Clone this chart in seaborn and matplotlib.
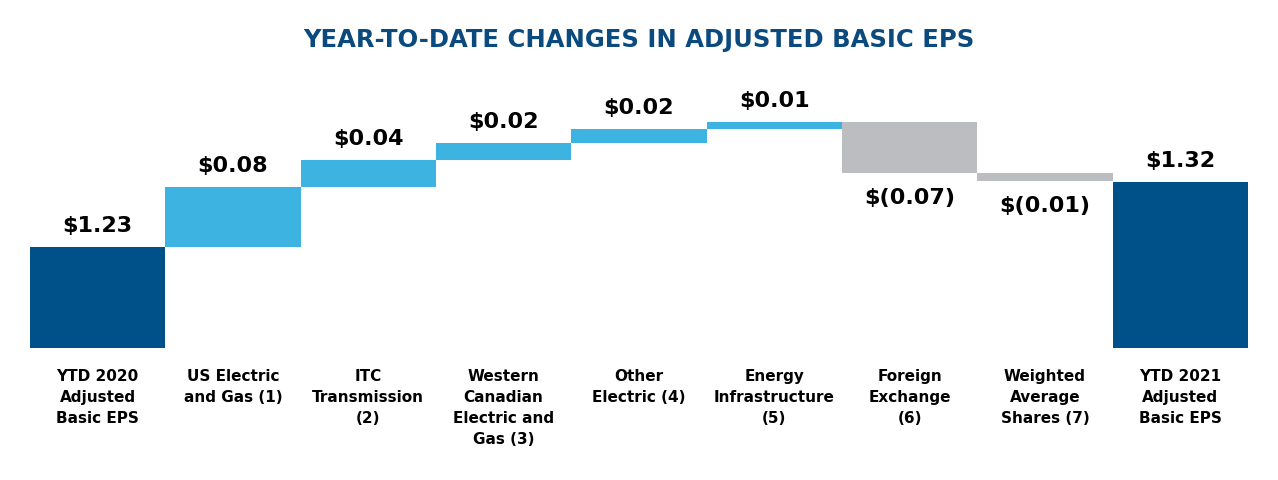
import numpy as np
import pandas as pd
import matplotlib
matplotlib.use("Agg")
import matplotlib.pyplot as plt
import seaborn as sns

# data
categories = ["YTD 2020\nAdjusted\nBasic EPS", "US Electric\nand Gas (1)", "ITC\nTransmission\n(2)",
              "Western\nCanadian\nElectric and\nGas (3)", "Other\nElectric (4)", "Energy\nInfrastructure\n(5)",
              "Foreign\nExchange\n(6)", "Weighted\nAverage\nShares (7)", "YTD 2021\nAdjusted\nBasic EPS"]
start_eps = 1.23
changes = [0.083, 0.037, 0.024, 0.019, 0.010, -0.071, -0.011]
end_eps = 1.32
value_labels = ["$1.23", "$0.08", "$0.04", "$0.02", "$0.02", "$0.01", "$(0.07)", "$(0.01)", "$1.32"]

DARK = "#00518A"
LIGHT = "#3DB3E1"
GREY = "#BCBDC0"

# waterfall: tops and bottoms of each bar
tops, bottoms, colors = [start_eps], [0.0], [DARK]
cum = start_eps
for d in changes:
    new = cum + d
    tops.append(max(cum, new))
    bottoms.append(min(cum, new))
    colors.append(LIGHT if d >= 0 else GREY)
    cum = new
tops.append(end_eps)
bottoms.append(0.0)
colors.append(DARK)

df = pd.DataFrame({"cat": categories, "top": tops, "bottom": bottoms, "color": colors})

sns.set_style("white")
plt.rcParams["font.family"] = ["DejaVu Sans"]
plt.rcParams["text.color"] = "black"
plt.rcParams["xtick.color"] = "black"

fig = plt.figure(figsize=(12.78, 4.8), dpi=100)
ax = fig.add_axes([30 / 1278, 1 - 348 / 480, 1218 / 1278, 268 / 480])

sns.barplot(data=df, x="cat", y="top", hue="cat", palette=dict(zip(categories, colors)),
            width=1.0, saturation=1, linewidth=0, legend=False, ax=ax)
# mask the part under each floating bar
sns.barplot(data=df, x="cat", y="bottom", color="white", width=1.0, saturation=1,
            linewidth=0, ax=ax)

ax.set_ylim(1.09, 1.461)
ax.set_xlim(-0.5, len(categories) - 0.5)
ax.set_xlabel("")
ax.set_ylabel("")
ax.set_yticks([])
for s in ax.spines.values():
    s.set_visible(False)
ax.tick_params(axis="x", length=0, pad=15)
ax.set_xticks(range(len(categories)))
ax.set_xticklabels(categories, fontsize=11, fontweight="bold", linespacing=1.5, va="top",
                   color="black")

for i, lab in enumerate(value_labels):
    neg = 0 < i < len(categories) - 1 and changes[i - 1] < 0
    if neg:
        ax.annotate(lab, (i, bottoms[i]), xytext=(0, -25), textcoords="offset pixels",
                    ha="center", va="center", fontsize=16, fontweight="bold", color="black")
    else:
        ax.annotate(lab, (i, tops[i]), xytext=(0, 21), textcoords="offset pixels",
                    ha="center", va="center", fontsize=16, fontweight="bold", color="black")

fig.text(0.5, 1 - 40 / 480, "YEAR-TO-DATE CHANGES IN ADJUSTED BASIC EPS", ha="center", va="center",
         fontsize=17.5, fontweight="bold", color="#0B4A7E")

fig.savefig("out.png", dpi=100)
